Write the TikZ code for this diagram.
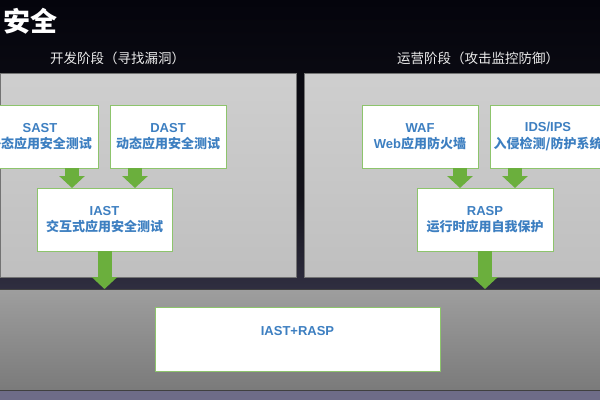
\documentclass[tikz,border=0pt]{standalone}
\usepackage{fontspec}
\setmainfont{Liberation Sans}
\newfontfamily\cjk{Noto Sans CJK SC}
\usetikzlibrary{arrows.meta,calc}
\definecolor{boxblue}{HTML}{3D7FC1}
\definecolor{boxgreen}{HTML}{8DC46C}
\definecolor{arrowgreen}{HTML}{6BAF3D}
\definecolor{bgtop}{HTML}{04040C}
\definecolor{bgbot}{HTML}{4E4C6A}
\definecolor{strip}{HTML}{6E6C88}
\tikzset{
  panel/.style={draw=black!55, line width=0.6pt, top color=black!19, bottom color=black!25,
    minimum width=296pt, minimum height=204pt, inner sep=0pt, outer sep=0pt},
  basebox/.style={draw=black!75, line width=0.8pt, top color=black!38, bottom color=black!52,
    minimum width=602pt, minimum height=101pt, inner sep=0pt, outer sep=0pt},
  box/.style={draw=boxgreen, line width=0.9pt, fill=white, minimum width=116pt, minimum height=63pt,
    inner sep=0pt, outer sep=0pt, align=center, text=boxblue,
    font=\bfseries\fontsize{13}{16.5}\selectfont},
  stagelabel/.style={text=white!92!black, font=\cjk\fontsize{13.5}{13.5}\selectfont, inner sep=0pt},
  garrow/.style={draw=arrowgreen, line width=14pt, -{Triangle[width=25pt,length=12pt]}}
}
\begin{document}
\begin{tikzpicture}[x=1pt,y=-1pt]
\useasboundingbox (0,0) rectangle (600,400);
% background
\shade[top color=bgtop, bottom color=bgbot, middle color=black!75!bgbot] (0,0) rectangle (600,392);
\fill[strip] (0,390) rectangle (600,400);
% panels
\node[panel] (lpanel) at (148,175) {};
\node[panel] (rpanel) at (452,175) {};
\node[basebox] (base) at (300,339.5) {};
% title and stage labels
\node[anchor=west, inner sep=0pt, text=white, font=\cjk\bfseries\fontsize{27}{27}\selectfont] (title) at (3,21) {安全};
\node[stagelabel] (devlabel) at (117.5,58) {开发阶段（寻找漏洞）};
\node[stagelabel] (opslabel) at (478,58) {运营阶段（攻击监控防御）};
% boxes
\node[box] (sast) at (40,136.5) {SAST\\{\cjk 静态应用安全测试}};
\node[box] (dast) at (168,136.5) {DAST\\{\cjk 动态应用安全测试}};
\node[box, minimum width=135pt] (iast) at (104.5,219.5) {IAST\\{\cjk 交互式应用安全测试}};
\node[box] (waf) at (420,136.5) {WAF\\Web{\cjk 应用防火墙}};
\node[box] (ids) at (548,136.5) {IDS/IPS\\{\cjk 入侵检测/防护系统}};
\node[box, minimum width=136pt] (rasp) at (485,219.5) {RASP\\{\cjk 运行时应用自我保护}};
\node[box, minimum width=285pt, minimum height=64pt] (combo) at (297.5,339.5) {IAST+RASP\\\mbox{}};
% arrow positions
\coordinate (a1) at (72,0);
\coordinate (a2) at (135,0);
\coordinate (a3) at (460,0);
\coordinate (a4) at (515,0);
% arrows
\draw[garrow] (sast.south -| a1) -- (iast.north -| a1);
\draw[garrow] (dast.south -| a2) -- (iast.north -| a2);
\draw[garrow] (waf.south -| a3) -- (rasp.north -| a3);
\draw[garrow] (ids.south -| a4) -- (rasp.north -| a4);
\draw[garrow] (iast.south) -- (iast.south |- base.north);
\draw[garrow] (rasp.south) -- (rasp.south |- base.north);
\end{tikzpicture}
\end{document}
